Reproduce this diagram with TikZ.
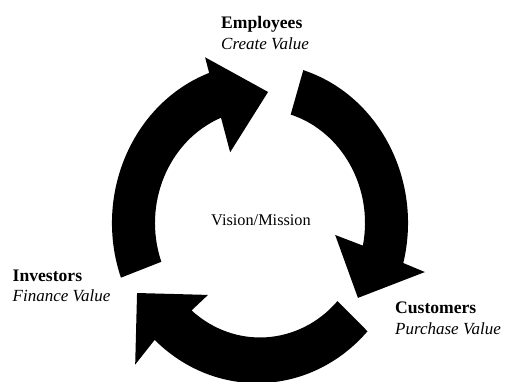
\documentclass[tikz,border=0pt]{standalone}
\usepackage{fontspec}
\setmainfont{Liberation Serif}
\begin{document}
\begin{tikzpicture}[x=1pt,y=1pt,
  cyclearrow/.style={fill=black,draw=none},
  role/.style={anchor=base west,inner sep=0pt,font=\fontsize{17.6}{21}\selectfont\bfseries},
  act/.style={anchor=base west,inner sep=0pt,font=\fontsize{17}{21}\selectfont\itshape},
  hub/.style={anchor=base,inner sep=0pt,font=\fontsize{16.3}{20}\selectfont}]
\useasboundingbox (0,0) rectangle (505,381);

% the three curved arrows of the value cycle, drawn on a slightly tall ellipse
\begin{scope}[shift={(260,158)},yscale=1.08]
  % Employees -> Customers
  \fill[cyclearrow] (73:148) arc[start angle=73,end angle=-14.5,radius=148]
    -- (-15.4:171) -- (-35.3:120) -- (-8.4:76) -- (-11.5:105)
    arc[start angle=-11.5,end angle=73,radius=105] -- cycle;
  % Customers -> Investors
  \fill[cyclearrow] (-43:147) arc[start angle=-43,end angle=-132.7,radius=151]
    -- (-133.6:181) -- (-152.2:139) -- (-128:84.5) -- (-130.2:106)
    arc[start angle=-130.2,end angle=-43,radius=106] -- cycle;
  % Investors -> Employees
  \fill[cyclearrow] (200:148) arc[start angle=200,end angle=110.1,radius=148]
    -- (109.7:163) -- (86.2:121.6) -- (114.5:72) -- (111.8:105)
    arc[start angle=111.8,end angle=200,radius=105] -- cycle;
\end{scope}

% labels
\node[hub]  (vision) at (261,156) {Vision/Mission};
\node[role] (emp)    at (221,352.5) {Employees};
\node[act]  (empv)   at (221,331.5) {Create Value};
\node[role] (inv)    at (12.5,100) {Investors};
\node[act]  (invv)   at (12.5,79.3) {Finance Value};
\node[role] (cus)    at (395,67.7) {Customers};
\node[act]  (cusv)   at (395,47) {Purchase Value};
\end{tikzpicture}
\end{document}
